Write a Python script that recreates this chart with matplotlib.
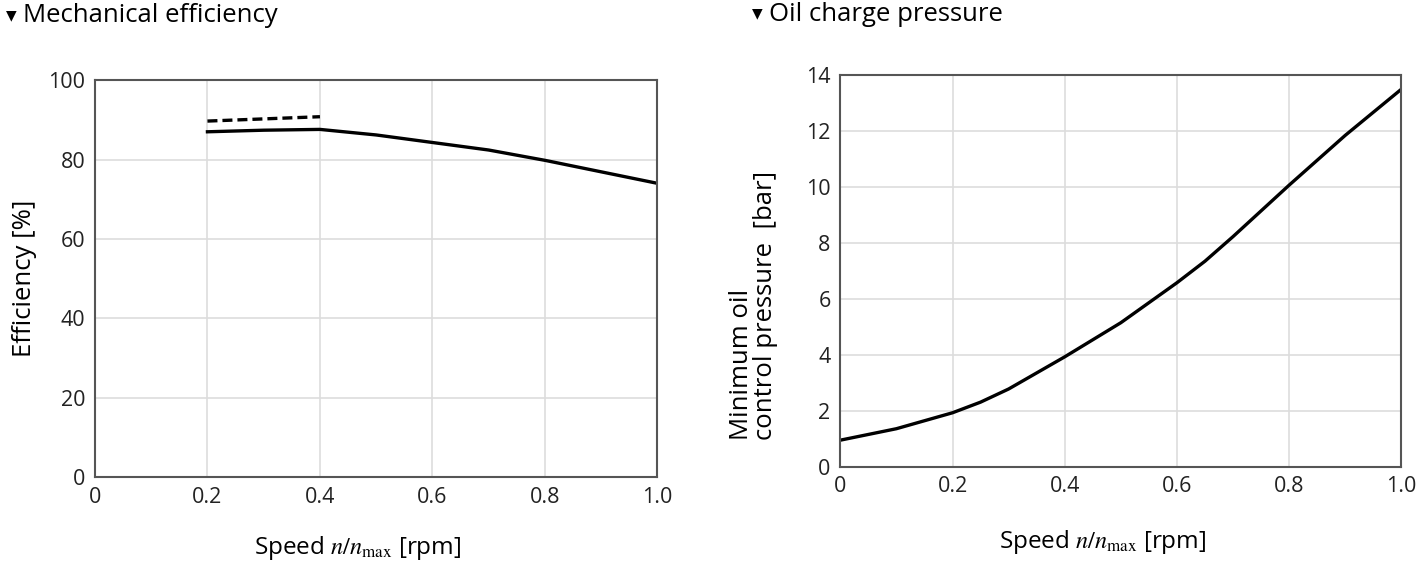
import matplotlib
matplotlib.use("Agg")
import matplotlib.pyplot as plt

# mechanical efficiency
eff_speed = [0.2, 0.3, 0.4, 0.5, 0.6, 0.7, 0.8, 0.9, 1.0]
eff_solid = [87.0, 87.4, 87.6, 86.2, 84.3, 82.4, 79.8, 76.9, 74.0]
eff_dash_speed = [0.2, 0.4]
eff_dash = [89.7, 90.8]

# oil charge pressure
p_speed = [0.0, 0.1, 0.2, 0.25, 0.3, 0.4, 0.5, 0.6, 0.65, 0.7, 0.8, 0.9, 1.0]
p_min = [0.95, 1.36, 1.93, 2.31, 2.78, 3.93, 5.15, 6.58, 7.35, 8.23, 10.07, 11.85, 13.5]

x_ticks = [0, 0.2, 0.4, 0.6, 0.8, 1.0]
x_labels = ["0", "0.2", "0.4", "0.6", "0.8", "1.0"]

plt.rcParams["font.family"] = ["Open Sans", "DejaVu Sans"]
plt.rcParams["mathtext.fontset"] = "stix"

fig = plt.figure(figsize=(14.17, 5.61), dpi=100)
ax1 = fig.add_axes([0.067, 0.15, 0.397, 0.707])
ax2 = fig.add_axes([0.593, 0.168, 0.396, 0.698])

xlabel = r"Speed $\mathit{n}/\mathit{n}_{\mathrm{max}}$ [rpm]"


def style(ax):
    ax.grid(True, color="#dddddd", linewidth=1.2)
    ax.set_axisbelow(True)
    for s in ax.spines.values():
        s.set_color("#555555")
        s.set_linewidth(1.5)
    ax.tick_params(length=0, labelsize=15.5, pad=7, colors="#222222")
    ax.set_xticks(x_ticks)
    ax.set_xticklabels(x_labels)
    ax.set_xlim(0, 1.0)


style(ax1)
ax1.plot(eff_speed, eff_solid, color="black", linewidth=2.4)
ax1.plot(eff_dash_speed, eff_dash, color="black", linewidth=2.4, linestyle=(0, (3, 1.5)))
ax1.set_ylim(0, 100)
ax1.set_yticks([0, 20, 40, 60, 80, 100])
ax1.set_ylabel("Efficiency [%]", fontsize=18.5, labelpad=8)

style(ax2)
ax2.plot(p_speed, p_min, color="black", linewidth=2.4)
ax2.set_ylim(0, 14)
ax2.set_yticks([0, 2, 4, 6, 8, 10, 12, 14])
fig.text(0.532, 0.215, "Minimum oil\ncontrol pressure  [bar]", fontsize=18.5,
         rotation=90, ha="center", va="bottom", multialignment="left",
         linespacing=0.95)

fig.text(0.252, 0.024, xlabel, fontsize=17.5, ha="center", va="center")
fig.text(0.778, 0.034, xlabel, fontsize=17.5, ha="center", va="center")

fig.text(0.004, 0.972, "▼", fontsize=10, va="center", ha="left")
fig.text(0.016, 0.972, "Mechanical efficiency", fontsize=18.5, va="center", ha="left")
fig.text(0.531, 0.975, "▼", fontsize=10, va="center", ha="left")
fig.text(0.543, 0.975, "Oil charge pressure", fontsize=18.5, va="center", ha="left")

fig.savefig("out.png", dpi=100)
